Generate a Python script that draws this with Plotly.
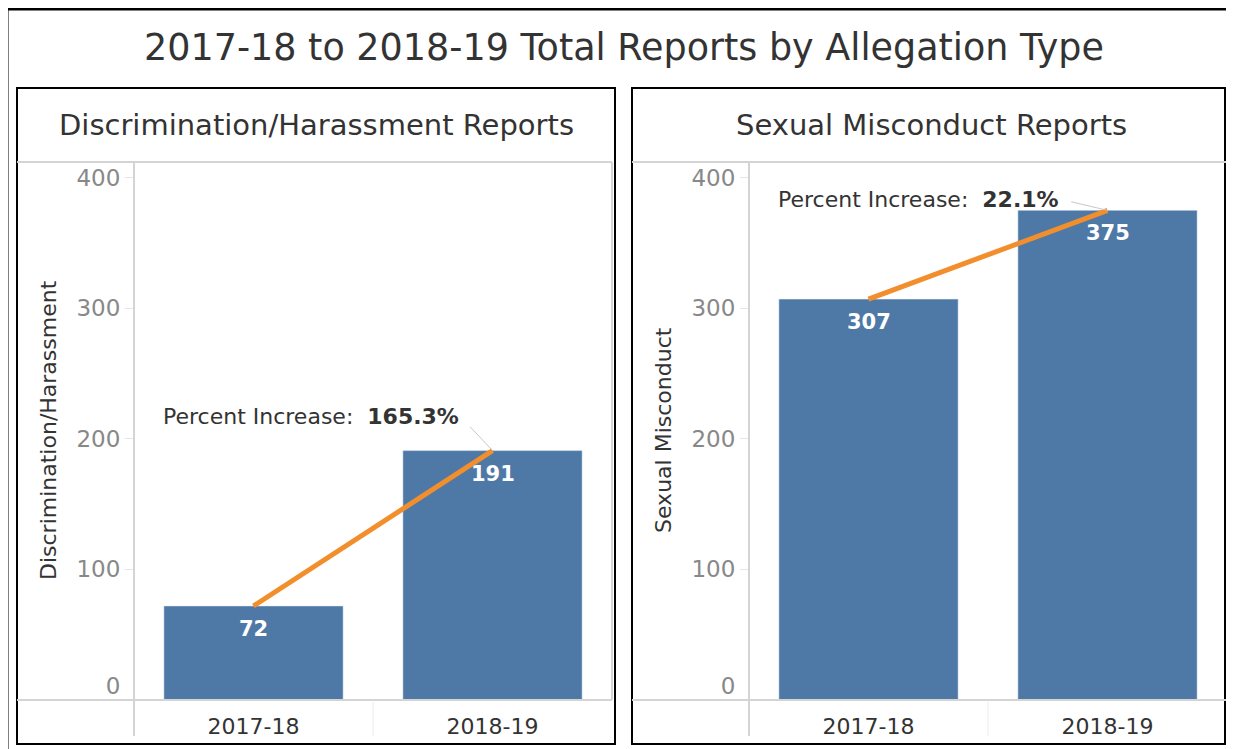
import plotly.graph_objects as go

# data
years = ["2017-18", "2018-19"]
discrim_reports = [72, 191]
sexual_reports = [307, 375]
panel_titles = ["Discrimination/Harassment Reports", "Sexual Misconduct Reports"]
axis_titles = ["Discrimination/Harassment", "Sexual Misconduct"]
y_ticks = [0, 100, 200, 300, 400]

# the page body has an 8px margin, so the figure is drawn 8px in from the corner
PAGE_OFF = 8
W, H = 1234 - PAGE_OFF, 749 - PAGE_OFF
FONT = "DejaVu Sans"
BLUE = "#4E79A7"
ORANGE = "#F28E2B"
GRID = "#d4d4d4"


def px(x):
    return (x - PAGE_OFF) / W


def py(y):
    return 1 - (y - PAGE_OFF) / H


fig = go.Figure()
shapes = []
annotations = []

panels = [
    dict(vals=discrim_reports, left=17, xa="x", ya="y", za="y3", arrow=(-32, -34, 14)),
    dict(vals=sexual_reports, left=632, xa="x2", ya="y2", za="y4", arrow=(-47, -11, 11)),
]

for i, p in enumerate(panels):
    vals = p["vals"]
    off = p["left"] - 17
    xa, ya = p["xa"], p["ya"]

    fig.add_trace(go.Bar(
        x=years, y=vals, xaxis=xa, yaxis=ya,
        marker_color=BLUE, width=0.75,
        hoverinfo="x+y", showlegend=False,
    ))
    fig.add_trace(go.Scatter(
        x=years, y=vals, xaxis=xa, yaxis=ya, mode="lines",
        line=dict(color=ORANGE, width=5), hoverinfo="skip", showlegend=False,
    ))
    # empty trace so the overlay axis carrying the "0" label gets drawn
    fig.add_trace(go.Scatter(
        x=years[:1], y=y_ticks[:1], xaxis=xa, yaxis=p["za"], mode="markers",
        marker=dict(opacity=0), hoverinfo="skip", showlegend=False,
    ))

    # value labels just inside the top of each bar
    for yr, v in zip(years, vals):
        annotations.append(dict(
            x=yr, y=v, xref=xa, yref=ya, text=f"<b>{v}</b>", showarrow=False,
            yanchor="top", yshift=-9,
            font=dict(family=FONT, size=21, color="white"),
        ))

    pct = (vals[1] - vals[0]) / vals[0] * 100
    ax, ay, gap = p["arrow"]
    annotations.append(dict(
        x=years[1], y=vals[1], xref=xa, yref=ya,
        text=f"Percent Increase:  <b>{pct:.1f}%</b>",
        showarrow=True, arrowhead=0, arrowwidth=1, arrowcolor="#c8c8c8",
        ax=ax, ay=ay, xanchor="right", yanchor="middle", startstandoff=gap,
        font=dict(family=FONT, size=22, color="#333333"),
    ))

    # panel title
    annotations.append(dict(
        x=px(p["left"] + 299), y=py(125), xref="paper", yref="paper",
        text=panel_titles[i], showarrow=False, xanchor="center", yanchor="middle",
        font=dict(family=FONT, size=29, color="#333333"),
    ))
    # y axis title
    annotations.append(dict(
        x=px(48 + off), y=py(430), xref="paper", yref="paper",
        text=axis_titles[i], showarrow=False, textangle=-90,
        xanchor="center", yanchor="middle",
        font=dict(family=FONT, size=22, color="#333333"),
    ))

    # frame: black panel box, gray plot borders
    shapes += [
        dict(type="rect", xref="paper", yref="paper",
             x0=px(17 + off), x1=px(min(615 + off, 1225)), y0=py(744), y1=py(88),
             line=dict(color="black", width=2)),
        dict(type="line", xref="paper", yref="paper",
             x0=px(17 + off), x1=px(612 + off), y0=py(162), y1=py(162),
             line=dict(color=GRID, width=2)),
        dict(type="line", xref="paper", yref="paper",
             x0=px(612 + off), x1=px(612 + off), y0=py(162), y1=py(700),
             line=dict(color=GRID, width=2)),
        dict(type="line", xref="paper", yref="paper",
             x0=px(17 + off), x1=px(612 + off), y0=py(700), y1=py(700),
             line=dict(color=GRID, width=2)),
        dict(type="line", xref="paper", yref="paper",
             x0=px(134 + off), x1=px(134 + off), y0=py(162), y1=py(736),
             line=dict(color=GRID, width=2)),
        dict(type="line", xref=xa, yref="paper",
             x0=0.5, x1=0.5, y0=py(702), y1=py(736),
             line=dict(color="#ececec", width=1)),
    ]

# outer frame (right and bottom edges run off the page)
shapes.append(dict(type="rect", xref="paper", yref="paper",
                   x0=px(7), x1=px(1250), y0=py(770), y1=py(9),
                   line=dict(color="black", width=3)))

annotations.append(dict(
    x=px(624), y=py(48), xref="paper", yref="paper",
    text="2017-18 to 2018-19 Total Reports by Allegation Type",
    showarrow=False, xanchor="center", yanchor="middle",
    font=dict(family=FONT, size=36.5, color="#333333"),
))

xaxis_style = dict(
    type="category", range=[-0.5, 1.5], showgrid=False, showline=False,
    zeroline=False, ticks="", ticklabelstandoff=11,
    tickfont=dict(family=FONT, size=22, color="#333333"),
)
yaxis_style = dict(
    range=[0, 412], showgrid=False, showline=False,
    zeroline=False, ticks="outside", ticklen=8, tickcolor="#e6e6e6",
    tickfont=dict(family=FONT, size=23, color="#888888"),
)
# the "0" label sits a little above its tick, as in the original
zero_style = dict(
    range=[0, 412], tickvals=[0], showgrid=False, showline=False,
    zeroline=False, ticks="outside", ticklen=8, tickcolor="rgba(0,0,0,0)",
    ticklabelshift=-14,
    tickfont=dict(family=FONT, size=23, color="#888888"),
)
tick_text = [""] + [str(t) for t in y_ticks[1:]]

fig.update_layout(
    width=W, height=H, margin=dict(l=0, r=0, t=0, b=0),
    paper_bgcolor="white", plot_bgcolor="white",
    xaxis=dict(domain=[px(134), px(612)], anchor="y", **xaxis_style),
    yaxis=dict(domain=[py(700), py(162)], anchor="x", tickvals=y_ticks,
               ticktext=tick_text, **yaxis_style),
    xaxis2=dict(domain=[px(749), px(1227)], anchor="y2", **xaxis_style),
    yaxis2=dict(domain=[py(700), py(162)], anchor="x2", tickvals=y_ticks,
                ticktext=tick_text, **yaxis_style),
    yaxis3=dict(overlaying="y", anchor="x", **zero_style),
    yaxis4=dict(overlaying="y2", anchor="x2", **zero_style),
    shapes=shapes, annotations=annotations,
)

fig.write_html("out.html")
